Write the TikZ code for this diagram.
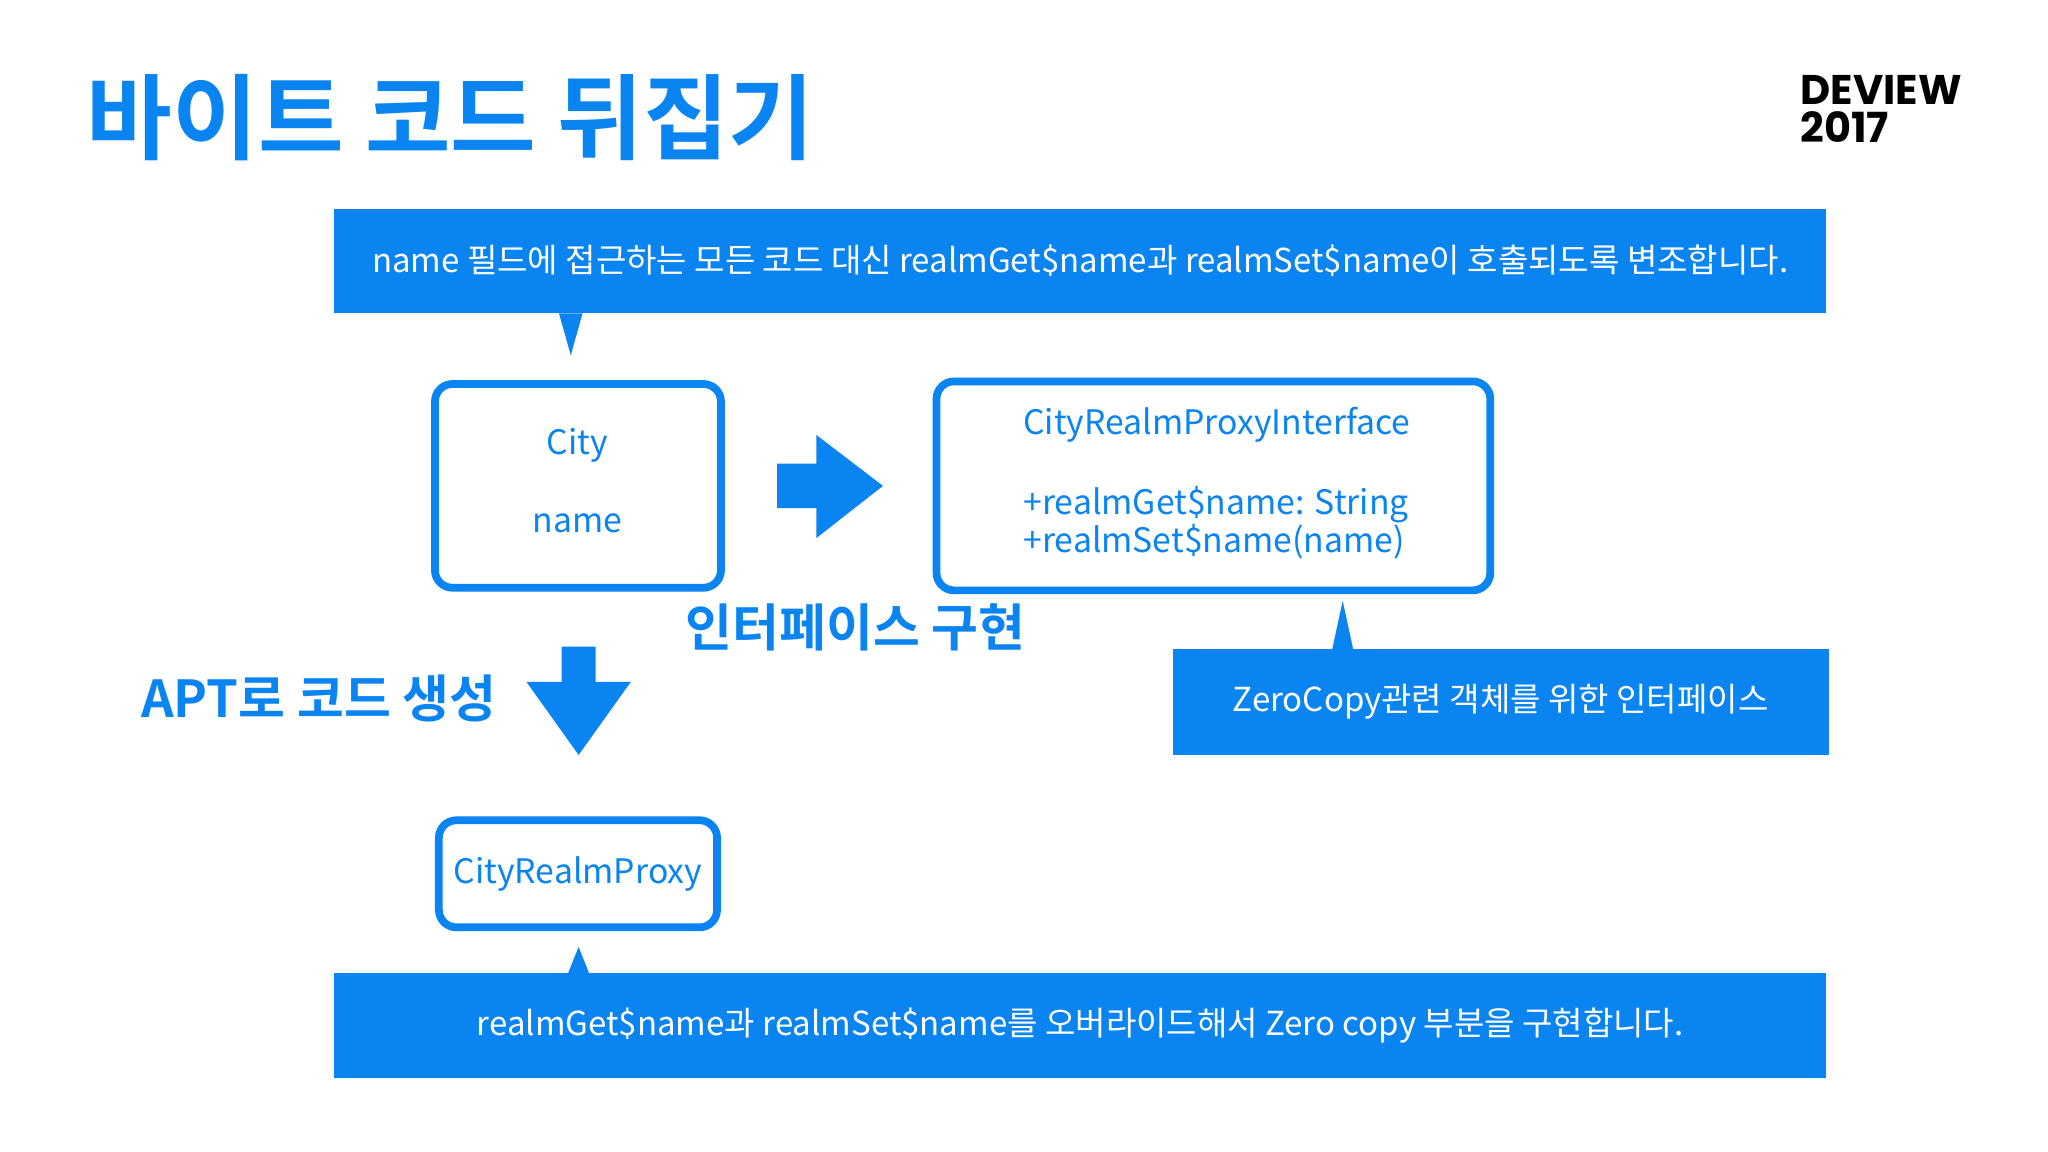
\documentclass[tikz,border=0pt]{standalone}
\usepackage{fontspec}
\setmainfont{Noto Sans CJK KR}
\newfontfamily\kb{Noto Sans CJK KR Bold}
\newfontfamily\pops{Poppins Bold}
\definecolor{bl}{HTML}{0A84F0}
\tikzset{
 banner/.style={fill=bl,draw=none,text=white,inner xsep=0pt,font=\fontsize{9.4}{12}\selectfont},
 wbox/.style={draw=bl,line width=2.2pt,rounded corners=5pt,fill=white,text=bl},
 btxt/.style={text=bl,font=\fontsize{9.6}{12}\selectfont},
 blab/.style={text=bl,font=\kb\fontsize{14.5}{17}\selectfont},
}
\begin{document}
\begin{tikzpicture}[x=0.01306cm,y=-0.01306cm]
\useasboundingbox (0,0) rectangle (1568,882);
\fill[white] (0,0) rectangle (1568,882);
\node[anchor=west,text=bl,font=\kb\fontsize{26.5}{30}\selectfont,inner sep=0] (title) at (66,90) {바이트 코드 뒤집기};
\node[anchor=north west,align=left,font=\pops\fontsize{11.8}{11}\selectfont,inner sep=0] (dv) at (1378,57) {DEVIEW\\2017};
% top banner
\fill[bl] (428,240) -- (437,272) -- (446,240) -- cycle;
\node[banner,minimum width={1142*0.01306cm},minimum height={80*0.01306cm}] (tb) at (827,200) {name 필드에 접근하는 모든 코드 대신 realmGet\$name과 realmSet\$name이 호출되도록 변조합니다.};
% City box
\node[wbox,minimum width={219*0.01306cm},minimum height={156*0.01306cm}] (city) at (442.5,372) {};
\node[btxt] (c1) at (442,341) {City};
\node[btxt] (c2) at (442,401) {name};
% right arrow
\fill[bl] (595,355) -- (625,355) -- (625,333) -- (676,372) -- (625,412) -- (625,389) -- (595,389) -- cycle;
% interface box
\node[wbox,minimum width={424*0.01306cm},minimum height={160*0.01306cm}] (intf) at (929,372) {};
\node[btxt,anchor=west,inner sep=0] (i1) at (783,325) {CityRealmProxyInterface};
\node[btxt,anchor=west,inner sep=0] (i2) at (783,386) {+realmGet\$name: String};
\node[btxt,anchor=west,inner sep=0] (i3) at (783,415) {+realmSet\$name(name)};
\node[blab] (impl) at (655,480) {인터페이스 구현};
\node[blab] (apt) at (244,535) {APT로 코드 생성};
% down arrow
\fill[bl] (430,495) -- (456,495) -- (456,522) -- (483,522) -- (443,578) -- (403,522) -- (430,522) -- cycle;
% right-bottom banner
\fill[bl] (1020,497) -- (1028,460) -- (1036,497) -- cycle;
\node[banner,minimum width={502*0.01306cm},minimum height={81*0.01306cm}] (zb) at (1149,537.5) {ZeroCopy관련 객체를 위한 인터페이스};
% proxy box
\node[wbox,btxt,minimum width={213*0.01306cm},minimum height={82*0.01306cm}] (proxy) at (442.5,669) {CityRealmProxy};
% bottom banner
\fill[bl] (435,745) -- (443,725) -- (451,745) -- cycle;
\node[banner,minimum width={1142*0.01306cm},minimum height={80*0.01306cm}] (bb) at (827,785) {realmGet\$name과 realmSet\$name를 오버라이드해서 Zero copy 부분을 구현합니다.};
\end{tikzpicture}
\end{document}
